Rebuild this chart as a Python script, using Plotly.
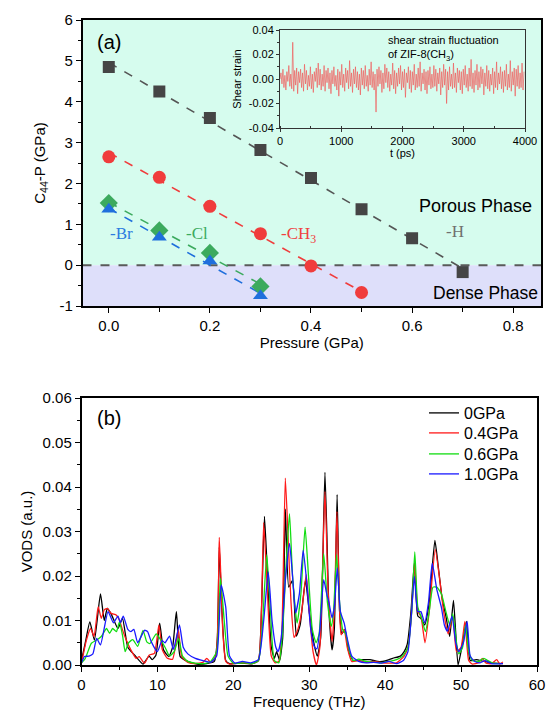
import numpy as np
import plotly.graph_objects as go

# ---------------- Panel (a) data ----------------
pressure_H = [0.0, 0.1, 0.2, 0.3, 0.4, 0.5, 0.6, 0.7]
c44_H = [4.85, 4.25, 3.60, 2.82, 2.13, 1.37, 0.66, -0.17]
pressure_CH3 = [0.0, 0.1, 0.2, 0.3, 0.4, 0.5]
c44_CH3 = [2.65, 2.15, 1.44, 0.77, -0.02, -0.67]
pressure_Cl = [0.0, 0.1, 0.2, 0.3]
c44_Cl = [1.52, 0.85, 0.30, -0.52]
pressure_Br = [0.0, 0.1, 0.2, 0.3]
c44_Br = [1.37, 0.68, 0.10, -0.75]

a_yticks = [-1, 0, 1, 2, 3, 4, 5, 6]
a_yticklabels = ["-1", "0", "1", "2", "3", "4", "5", "6"]
a_xticks = [0.0, 0.2, 0.4, 0.6, 0.8]
a_xticklabels = ["0.0", "0.2", "0.4", "0.6", "0.8"]

# inset: shear strain fluctuation (units of 1e-3), sampled every 16 ps
strain_milli = [
    0, 5, -4, 8, -7, 3, -9, 6, -2, 11, -6, 4, -8, 30, -10, 7, -5, 9, -12, 6, -3, 8, -7, 5, -10,
    12, -4, 7, -9, 3, -6, 10, -8, 4, -11, 6, -2, 9, -7, 13, -5, 8, -9, 4, -6, 11, -10, 7, -3, 9,
    -8, 5, -12, 7, -4, 10, -6, 3, -9, 8, -14, 6, -5, 12, -7, 4, -10, 9, -3, 7, -8, 15, -6, 5, -11,
    8, -4, 10, -7, 6, -9, 4, -13, 9, -5, 7, -8, 11, -6, 3, -10, 8, -5, 14, -7, 6, -9, 4, -27, 8,
    -6, 10, -4, 7, -11, 5, -8, 12, -3, 9, -7, 6, -10, 4, -5, 13, -8, 7, -12, 5, -6, 9, -4, 11, -9,
    6, -7, 8, -15, 5, -3, 10, -8, 7, -11, 6, -5, 12, -9, 4, -7, 9, -6, 14, -10, 5, -4, 8, -9, 6,
    -12, 7, -5, 10, -8, 4, -7, 11, -6, 8, -10, 5, -4, 9, -13, 6, -7, 12, -5, 8, -20, 6, -9, 10, -6,
    4, -8, 13, -7, 5, -11, 9, -3, 7, -9, 6, -12, 8, -5, 11, -7, 4, -10, 9, -6, 16, -8, 5, -11, 7,
    -5, 12, -9, 6, -7, 10, -4, 8, -13, 5, -6, 11, -8, 7, -10, 4, -5, 9, -12, 6, -7, 14, -9, 5, -4,
    10, -8, 6, -11, 7, -6, 12, -9, 4, -7, 15, -10, 6, -5, 9, -14, 8, -6, 11, -8, 5, -7, 13, -9, 6,
]
strain_step_ps = 16
inset_yticks = [-0.04, -0.02, 0.0, 0.02, 0.04]
inset_yticklabels = ["-0.04", "-0.02", "0.00", "0.02", "0.04"]

# ---------------- Panel (b) data (freq THz, VODS) ----------------
vods_0GPa = [(0, 0.001), (0.5, 0.005), (1.1, 0.0097), (1.7, 0.0056), (2.5, 0.016), (3.0, 0.010), (3.4, 0.0127),
             (3.9, 0.0115), (4.8, 0.0082), (5.4, 0.0105), (6.1, 0.004), (7.0, 0.0022), (8.1, 0.0002), (8.9, 0.002),
             (9.3, 0.0012), (9.8, 0.0022), (10.3, 0.0094), (10.8, 0.0034), (11.5, 0.0019), (12.0, 0.004),
             (12.5, 0.012), (13.0, 0.0019), (14.0, 0.0008), (15.2, 0.0002), (16.5, 0.0003), (17.5, 0.0008),
             (17.9, 0.006), (18.15, 0.0265), (18.5, 0.012), (19.0, 0.001), (19.5, 0.0003), (21, 0.0004),
             (22.5, 0.0003), (23.3, 0.001), (23.7, 0.012), (24.1, 0.0334), (24.5, 0.02), (25.0, 0.004),
             (25.4, 0.0015), (25.7, 0.003), (26.1, 0.001), (26.5, 0.006), (26.85, 0.035), (27.3, 0.0175),
             (27.8, 0.019), (28.3, 0.0065), (28.8, 0.009), (29.5, 0.019), (30.0, 0.012), (30.6, 0.005),
             (31.07, 0.002), (31.5, 0.006), (32.07, 0.0433), (32.6, 0.012), (33.0, 0.0034), (33.3, 0.008),
             (33.67, 0.0383), (34.0, 0.012), (34.3, 0.007), (34.7, 0.008), (35.2, 0.003), (35.8, 0.001),
             (37, 0.0012), (38, 0.0012), (39, 0.0008), (40, 0.0009), (41, 0.0015), (42, 0.002), (42.5, 0.003),
             (42.9, 0.0046), (43.4, 0.012), (43.85, 0.023), (44.3, 0.011), (44.7, 0.0105), (45.2, 0.009),
             (45.8, 0.014), (46.55, 0.028), (47.0, 0.022), (47.5, 0.015), (48.0, 0.011), (48.5, 0.0064),
             (49.0, 0.0145), (49.6, 0.0), (50.1, 0.004), (50.7, 0.0098), (51.2, 0.001), (52, 0.0012),
             (53, 0.0008), (54, 0.0005), (55.5, 0.0003)]
vods_04GPa = [(0, 0.0004), (0.65, 0.0056), (1.2, 0.0082), (1.65, 0.0064), (2.2, 0.0131), (2.6, 0.0105), (3.0, 0.0124),
              (3.4, 0.0127), (3.9, 0.0116), (4.6, 0.0112), (5.0, 0.0101), (5.4, 0.0079), (5.9, 0.0056), (6.5, 0.0034),
              (7.2, 0.0015), (7.6, 0.0019), (8.3, 0.0004), (8.9, 0.0022), (9.6, 0.0026), (10.2, 0.009), (10.65, 0.0034),
              (11.3, 0.0015), (12.0, 0.0013), (12.75, 0.008), (13.2, 0.0019), (14, 0.0006), (15, 0.0003), (16, 0.0006),
              (16.5, 0.0015), (17.0, 0.0006), (17.7, 0.002), (18.15, 0.0287), (18.6, 0.008), (19.0, 0.0008),
              (19.5, 0.0002), (21, 0.0005), (22.5, 0.0003), (23.3, 0.001), (23.7, 0.012), (24.0, 0.032), (24.5, 0.016),
              (25.0, 0.002), (25.5, 0.0005), (26.0, 0.0008), (26.4, 0.008), (26.85, 0.042), (27.3, 0.025), (27.6, 0.014),
              (28.0, 0.0062), (28.5, 0.008), (29.0, 0.012), (29.6, 0.0203), (30.0, 0.012), (30.5, 0.003), (30.95, 0.0),
              (31.4, 0.004), (32.07, 0.039), (32.5, 0.016), (33.0, 0.0053), (33.3, 0.012), (33.65, 0.0345), (34.0, 0.012),
              (34.2, 0.0068), (34.6, 0.008), (35.0, 0.004), (35.6, 0.0008), (36.5, 0.001), (37.5, 0.0006), (38.5, 0.0008),
              (39.5, 0.0005), (40.5, 0.0004), (41.5, 0.0005), (42.5, 0.002), (43.0, 0.004), (43.4, 0.01), (43.9, 0.0228),
              (44.3, 0.012), (44.7, 0.011), (45.25, 0.005), (45.8, 0.012), (46.6, 0.026), (47.2, 0.019), (47.7, 0.012),
              (48.3, 0.007), (48.9, 0.011), (49.4, 0.003), (50.0, 0.004), (50.5, 0.0098), (51.0, 0.001), (51.5, 0.0002),
              (52.3, 0.0005), (52.8, 0.0015), (53.3, 0.0004), (54.0, 0.0003), (54.7, 0.0012), (55.1, 0.0002), (55.5, 0.0007)]
vods_06GPa = [(0, 0.0005), (0.5, 0.0015), (1.3, 0.0049), (2.0, 0.0056), (2.6, 0.0064), (3.3, 0.0082), (3.7, 0.0071),
              (4.1, 0.0082), (4.6, 0.0075), (5.0, 0.0097), (5.4, 0.0067), (5.75, 0.003), (6.2, 0.005), (6.75, 0.0057),
              (7.4, 0.0042), (8.1, 0.0078), (8.6, 0.0052), (9.0, 0.0048), (9.85, 0.007), (10.3, 0.006), (11.0, 0.004),
              (11.6, 0.002), (12.2, 0.003), (12.8, 0.006), (13.3, 0.002), (14, 0.0008), (15, 0.0004), (16, 0.0003),
              (17, 0.0008), (17.8, 0.003), (18.3, 0.0195), (18.8, 0.01), (19.3, 0.002), (20, 0.0004), (21.5, 0.0005),
              (22.5, 0.0003), (23.3, 0.001), (23.8, 0.008), (24.4, 0.0248), (24.9, 0.012), (25.4, 0.001), (26.0, 0.0005),
              (26.5, 0.008), (27.0, 0.024), (27.4, 0.034), (27.8, 0.02), (28.4, 0.0094), (28.9, 0.016), (29.45, 0.031),
              (29.9, 0.02), (30.4, 0.008), (30.9, 0.005), (31.3, 0.007), (31.9, 0.025), (32.4, 0.014), (32.9, 0.0087),
              (33.2, 0.012), (33.6, 0.0248), (34.0, 0.014), (34.4, 0.008), (34.8, 0.007), (35.3, 0.003), (35.8, 0.001),
              (36.5, 0.0013), (37.5, 0.0008), (38.5, 0.0006), (39.5, 0.0005), (40.5, 0.0008), (41.5, 0.0012),
              (42.3, 0.002), (43.0, 0.004), (43.5, 0.012), (43.9, 0.0254), (44.3, 0.013), (44.8, 0.0105), (45.3, 0.0075),
              (45.8, 0.012), (46.3, 0.0175), (46.8, 0.0175), (47.4, 0.016), (48.0, 0.012), (48.5, 0.009), (48.9, 0.0115),
              (49.4, 0.005), (49.7, 0.0025), (50.2, 0.004), (50.6, 0.009), (51.0, 0.003), (51.5, 0.001), (52.3, 0.0008),
              (53.0, 0.0015), (53.5, 0.001), (54.2, 0.0004), (55.0, 0.0003)]
vods_10GPa = [(0, 0.0005), (0.4, 0.0019), (1.0, 0.002), (1.5, 0.0025), (2.0, 0.006), (2.5, 0.0045), (3.5, 0.012),
              (4.2, 0.0095), (4.8, 0.011), (5.1, 0.0095), (5.5, 0.011), (6.1, 0.008), (6.5, 0.0075), (6.9, 0.008),
              (7.4, 0.005), (8.3, 0.0078), (8.7, 0.0075), (9.2, 0.0052), (10.0, 0.003), (10.6, 0.0055), (11.0, 0.005),
              (11.6, 0.0065), (12.1, 0.0035), (12.9, 0.009), (13.4, 0.004), (14, 0.0025), (15, 0.0015), (16, 0.001),
              (17, 0.0006), (17.8, 0.002), (18.4, 0.018), (19.0, 0.013), (19.5, 0.002), (20.2, 0.0004), (21.2, 0.0008),
              (22.3, 0.0005), (23.3, 0.0012), (24.0, 0.01), (24.6, 0.0209), (25.1, 0.01), (25.6, 0.004), (25.9, 0.003),
              (26.3, 0.006), (26.9, 0.02), (27.4, 0.0273), (27.8, 0.02), (28.2, 0.0117), (28.7, 0.016), (29.2, 0.0258),
              (29.7, 0.018), (30.2, 0.008), (30.7, 0.004), (31.0, 0.0036), (31.4, 0.008), (31.9, 0.0192), (32.3, 0.016),
              (32.6, 0.014), (33.0, 0.0106), (33.3, 0.013), (33.7, 0.0218), (34.1, 0.012), (34.6, 0.0094), (35.0, 0.006),
              (35.6, 0.002), (36.5, 0.0008), (37.5, 0.0005), (38.5, 0.0006), (39.5, 0.0004), (40.5, 0.0008),
              (41.5, 0.0003), (42.4, 0.001), (43.0, 0.003), (43.4, 0.01), (43.85, 0.0199), (44.3, 0.012), (44.7, 0.012),
              (45.2, 0.0095), (45.7, 0.014), (46.2, 0.0229), (46.8, 0.017), (47.4, 0.013), (47.8, 0.009), (48.2, 0.0076),
              (48.8, 0.011), (49.3, 0.005), (49.7, 0.003), (50.3, 0.005), (50.8, 0.0098), (51.2, 0.002), (51.8, 0.0008),
              (52.5, 0.0005), (53.2, 0.001), (54.0, 0.0003), (55.5, 0.0003)]
b_yticks = [0.0, 0.01, 0.02, 0.03, 0.04, 0.05, 0.06]

FONT = "Liberation Sans"
SERIF = "Liberation Serif"
W, H = 546, 715

def px_dom(a, b, total):
    return [a / total, b / total]

fig = go.Figure()

# ---- panel (a) traces ----
series_a = [
    (pressure_H, c44_H, "#454545", "square", 12, "#555555"),
    (pressure_CH3, c44_CH3, "#f03c3c", "circle", 13, "#f03c3c"),
    (pressure_Cl, c44_Cl, "#3caa5e", "diamond", 14, "#3caa5e"),
    (pressure_Br, c44_Br, "#1f6fdc", "triangle-up", 13, "#1f6fdc"),
]
for xs, ys, col, sym, sz, lcol in series_a:
    k, b0 = np.polyfit(xs, ys, 1)
    xf = [xs[0], xs[-1]]
    fig.add_trace(go.Scatter(x=xf, y=[k * xf[0] + b0, k * xf[1] + b0], mode="lines",
                             line=dict(color=lcol, width=1.6, dash="dash"),
                             showlegend=False, hoverinfo="skip", xaxis="x", yaxis="y"))
for xs, ys, col, sym, sz, lcol in series_a:
    fig.add_trace(go.Scatter(x=xs, y=ys, mode="markers",
                             marker=dict(color=col, symbol=sym, size=sz, line=dict(width=0)),
                             showlegend=False, xaxis="x", yaxis="y"))

# ---- inset ----
t_ps = [i * strain_step_ps for i in range(len(strain_milli))]
strain = [v / 1000.0 for v in strain_milli]
fig.add_trace(go.Scatter(x=t_ps, y=strain, mode="lines",
                         line=dict(color="rgba(240,90,90,0.75)", width=0.9),
                         showlegend=False, xaxis="x3", yaxis="y3"))

# ---- panel (b) traces ----
series_b = [
    ("0GPa", vods_0GPa, "#000000", "legend"),
    ("0.4GPa", vods_04GPa, "#ff1a1a", "legend2"),
    ("0.6GPa", vods_06GPa, "#12dd12", "legend3"),
    ("1.0GPa", vods_10GPa, "#1a1aff", "legend4"),
]
for name, pts, col, lg in series_b:
    fx = [p[0] for p in pts]
    fy = [p[1] for p in pts]
    fig.add_trace(go.Scatter(x=fx, y=fy, mode="lines", name=name, legend=lg,
                             line=dict(color=col, width=1.3, shape="spline", smoothing=0.5),
                             xaxis="x2", yaxis="y2"))

axis_common = dict(showline=True, linecolor="#000000", linewidth=1.5, mirror=True,
                   ticks="outside", ticklen=5, tickwidth=1.2, tickcolor="#000000",
                   showgrid=False, zeroline=False, automargin=False,
                   tickfont=dict(family=FONT, size=15, color="#000"))

legend_rows_px = [413, 433, 454, 474]
def legend_at(ypx):
    return dict(x=424 / W, y=1 - ypx / H, xanchor="left", yanchor="middle",
                bgcolor="rgba(0,0,0,0)", borderwidth=0,
                font=dict(family=FONT, size=16, color="#000"))

fig.update_layout(
    width=W, height=H,
    margin=dict(l=0, r=0, t=0, b=0),
    paper_bgcolor="white", plot_bgcolor="rgba(0,0,0,0)",
    font=dict(family=FONT, color="#000"),
    xaxis=dict(**axis_common, domain=px_dom(82.5, 541, W), range=[-0.052, 0.855], anchor="y",
               tickvals=a_xticks, ticktext=a_xticklabels,
               minor=dict(ticks="outside", ticklen=4, dtick=0.1, tick0=0, tickcolor="#000"),
               title=dict(text="Pressure (GPa)", font=dict(family=FONT, size=15), standoff=2)),
    yaxis=dict(**axis_common, domain=[1 - 306 / H, 1 - 20 / H], range=[-1, 6], anchor="x",
               tickvals=a_yticks, ticktext=a_yticklabels,
               minor=dict(ticks="outside", ticklen=3, dtick=0.5, tick0=0, tickcolor="#000"),
               title=dict(text="C<sub>44</sub>-P (GPa)", font=dict(family=FONT, size=15), standoff=10)),
    xaxis2=dict(**axis_common, domain=px_dom(81.5, 537, W), range=[0, 60], anchor="y2",
                dtick=10, tick0=0,
                minor=dict(ticks="outside", ticklen=3, dtick=5, tickcolor="#000"),
                title=dict(text="Frequency (THz)", font=dict(family=FONT, size=15), standoff=4)),
    yaxis2=dict(**axis_common, domain=[1 - 665 / H, 1 - 398 / H], range=[0, 0.06], anchor="x2",
                tickvals=b_yticks, tickformat=".2f",
                minor=dict(ticks="outside", ticklen=3, dtick=0.005, tick0=0, tickcolor="#000"),
                title=dict(text="VODS (a.u.)", font=dict(family=FONT, size=15), standoff=6)),
    xaxis3=dict(showline=True, linecolor="#333", linewidth=1, mirror=True, ticks="outside", ticklen=3,
                tickcolor="#333", showgrid=False, zeroline=False, automargin=False,
                domain=px_dom(280, 525, W), range=[0, 4000], anchor="y3", dtick=1000,
                minor=dict(ticks="inside", ticklen=2, dtick=500, tickcolor="#333"),
                tickfont=dict(family=FONT, size=11, color="#000"),
                title=dict(text="t (ps)", font=dict(family=FONT, size=11), standoff=3)),
    yaxis3=dict(showline=True, linecolor="#333", linewidth=1, mirror=True, ticks="outside", ticklen=3,
                tickcolor="#333", showgrid=False, zeroline=False, automargin=False,
                domain=[1 - 128 / H, 1 - 30 / H], range=[-0.04, 0.04], anchor="x3",
                tickvals=inset_yticks, ticktext=inset_yticklabels,
                minor=dict(ticks="outside", ticklen=2, dtick=0.01, tick0=0, tickcolor="#333"),
                tickfont=dict(family=FONT, size=11, color="#000"),
                title=dict(text="Shear strain", font=dict(family=FONT, size=11), standoff=4)),
    legend=legend_at(legend_rows_px[0]),
    legend2=legend_at(legend_rows_px[1]),
    legend3=legend_at(legend_rows_px[2]),
    legend4=legend_at(legend_rows_px[3]),
    shapes=[
        dict(type="rect", xref="x", yref="y", x0=-0.052, x1=0.855, y0=0, y1=6,
             fillcolor="#d6fcee", line=dict(width=0), layer="below"),
        dict(type="rect", xref="x", yref="y", x0=-0.052, x1=0.855, y0=-1, y1=0,
             fillcolor="#dedffa", line=dict(width=0), layer="below"),
        dict(type="line", xref="x", yref="y", x0=-0.052, x1=0.855, y0=0, y1=0,
             line=dict(color="#5a5a5a", width=2, dash="dash"), layer="below"),
    ],
    annotations=[
        dict(text="(a)", x=0.0, y=5.45, xref="x", yref="y", showarrow=False,
             font=dict(family=FONT, size=20)),
        dict(text="(b)", x=3.6, y=0.0555, xref="x2", yref="y2", showarrow=False,
             font=dict(family=FONT, size=20)),
        dict(text="-Br", x=0.025, y=0.78, xref="x", yref="y", showarrow=False,
             font=dict(family=SERIF, size=17, color="#2b7be0")),
        dict(text="-Cl", x=0.175, y=0.78, xref="x", yref="y", showarrow=False,
             font=dict(family=SERIF, size=17, color="#3caa5e")),
        dict(text="-CH<sub>3</sub>", x=0.375, y=0.75, xref="x", yref="y", showarrow=False,
             font=dict(family=SERIF, size=17, color="#f04040")),
        dict(text="-H", x=0.685, y=0.83, xref="x", yref="y", showarrow=False,
             font=dict(family=SERIF, size=17, color="#707070")),
        dict(text="Porous Phase", x=534 / W, y=1 - 206 / H, xref="paper", yref="paper",
             xanchor="right", yanchor="middle", showarrow=False,
             font=dict(family=FONT, size=18)),
        dict(text="Dense Phase", x=540 / W, y=1 - 293 / H, xref="paper", yref="paper",
             xanchor="right", yanchor="middle", showarrow=False,
             font=dict(family=FONT, size=17.5)),
        dict(text="shear strain fluctuation<br>of ZIF-8(CH<sub>3</sub>)", x=386 / W, y=1 - 32 / H,
             xref="paper", yref="paper", xanchor="left", yanchor="top", align="left",
             showarrow=False, font=dict(family=FONT, size=11)),
    ],
)

fig.write_html("out.html")
